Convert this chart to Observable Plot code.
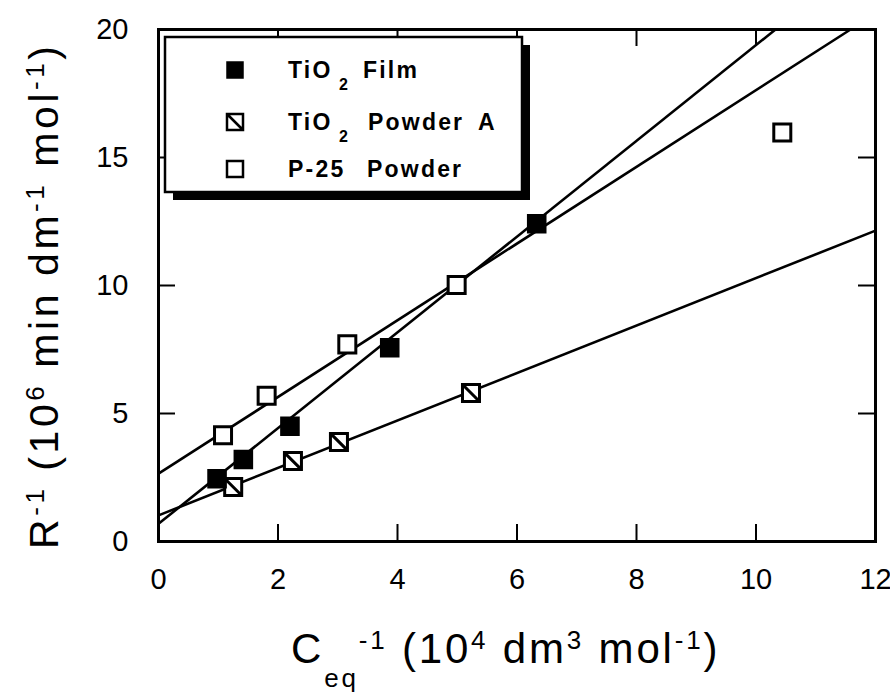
<!DOCTYPE html>
<html>
<head>
<meta charset="utf-8">
<script src="https://cdn.jsdelivr.net/npm/d3@7"></script>
<script src="https://cdn.jsdelivr.net/npm/@observablehq/plot@0.6"></script>
<style>
  body { margin: 0; background: #fff; }
  #chart { position: relative; width: 890px; height: 695px; }
</style>
</head>
<body>
<div id="chart"></div>
<script>
// Inverse rate vs inverse equilibrium concentration for three TiO2 samples
const filmX = [0.98, 1.42, 2.20, 3.87, 6.33];
const filmY = [2.45, 3.20, 4.50, 7.57, 12.41];
const powderAX = [1.25, 2.25, 3.02, 5.23];
const powderAY = [2.13, 3.14, 3.89, 5.80];
const p25X = [1.08, 1.81, 3.16, 4.99, 10.44];
const p25Y = [4.15, 5.69, 7.70, 10.02, 15.98];

// Linear fits (intercept, slope) for each sample
const fitNames = ["film", "powderA", "p25"];
const fitIntercepts = [0.69, 1.02, 2.65];
const fitSlopes = [1.87, 0.927, 1.498];

const xTicks = [0, 2, 4, 6, 8, 10, 12];
const yTicks = [0, 5, 10, 15, 20];
const xDomain = [0, 12];
const yDomain = [0, 20];

const W = 890, H = 695;
const M = {top: 29, right: 15, bottom: 154, left: 158};
const plotW = W - M.left - M.right, plotH = H - M.top - M.bottom;

// inward tick length (px) expressed in data units
const tickPx = 17;
const tx = tickPx * (xDomain[1] - xDomain[0]) / plotW;
const ty = tickPx * (yDomain[1] - yDomain[0]) / plotH;
const innerX = xTicks.slice(1, -1);
const innerY = yTicks.slice(1, -1);

// square with a diagonal, for powder A
const squareSlash = {
  draw(ctx, size) {
    const s = Math.sqrt(size) / 2;
    ctx.moveTo(-s, -s); ctx.lineTo(s, -s); ctx.lineTo(s, s); ctx.lineTo(-s, s); ctx.closePath();
    ctx.moveTo(-s, -s); ctx.lineTo(s, s);
  }
};

const pts = (xs, ys) => xs.map((x, i) => ({x, y: ys[i]}));
const film = pts(filmX, filmY);
const powderA = pts(powderAX, powderAY);
const p25 = pts(p25X, p25Y);

// fitted segments, ending where each line leaves the frame
const fits = fitNames.map((name, i) => {
  const a = fitIntercepts[i], b = fitSlopes[i];
  const xEnd = Math.min(xDomain[1], (yDomain[1] - a) / b);
  return {name, x1: xDomain[0], y1: a + b * xDomain[0], x2: xEnd, y2: a + b * xEnd};
});

const chart = Plot.plot({
  width: W, height: H,
  marginTop: M.top, marginRight: M.right, marginBottom: M.bottom, marginLeft: M.left,
  style: {fontFamily: "'Liberation Sans', Arial, sans-serif", fontSize: "29px", background: "#fff", color: "#000", overflow: "visible"},
  x: {domain: xDomain, ticks: xTicks, tickSize: 0, tickPadding: 27, label: null},
  y: {domain: yDomain, ticks: yTicks, tickSize: 0, tickPadding: 30, label: null},
  marks: [
    Plot.ruleX(innerX, {x: d => d, y1: yDomain[0], y2: yDomain[0] + ty, strokeWidth: 2}),
    Plot.ruleX(innerX, {x: d => d, y1: yDomain[1] - ty, y2: yDomain[1], strokeWidth: 2}),
    Plot.ruleY(innerY, {y: d => d, x1: xDomain[0], x2: xDomain[0] + tx, strokeWidth: 2}),
    Plot.ruleY(innerY, {y: d => d, x1: xDomain[1] - tx, x2: xDomain[1], strokeWidth: 2}),
    Plot.link(fits, {x1: "x1", y1: "y1", x2: "x2", y2: "y2", stroke: "#000", strokeWidth: 2.6}),
    Plot.dot(p25, {x: "x", y: "y", symbol: "square", r: 9.6, fill: "#fff", stroke: "#000", strokeWidth: 3}),
    Plot.dot(powderA, {x: "x", y: "y", symbol: squareSlash, r: 9.6, fill: "#fff", stroke: "#000", strokeWidth: 3}),
    Plot.dot(film, {x: "x", y: "y", symbol: "square", r: 10.2, fill: "#000", stroke: "#000", strokeWidth: 1.5}),
    Plot.frame({stroke: "#000", strokeWidth: 3})
  ]
});
document.getElementById("chart").appendChild(chart);

const svg = d3.select(chart);
const FONT = "'Liberation Sans', Arial, sans-serif";

// legend box with drop shadow
const lg = svg.append("g").attr("text-anchor", "start").attr("font-family", FONT)
  .attr("font-weight", "bold").attr("font-size", 23).attr("letter-spacing", 2.2);
const box = {x: 165, y: 37, w: 357, h: 155, shadow: 8};
lg.append("rect").attr("x", box.x + box.shadow).attr("y", box.y + box.shadow).attr("width", box.w).attr("height", box.h).attr("fill", "#000");
lg.append("rect").attr("x", box.x).attr("y", box.y).attr("width", box.w).attr("height", box.h)
  .attr("fill", "#fff").attr("stroke", "#000").attr("stroke-width", 2.5);

const legendRows = [
  {cy: 70, symbol: d3.symbolSquare, fill: "#000", sw: 1.5, parts: [["TiO", 288], ["2", 339, "sub"], ["Film", 363]]},
  {cy: 122, symbol: squareSlash, fill: "#fff", sw: 2.5, parts: [["TiO", 288], ["2", 339, "sub"], ["Powder", 368], ["A", 478]]},
  {cy: 169, symbol: d3.symbolSquare, fill: "#fff", sw: 2.5, parts: [["P-25", 288], ["Powder", 367]]}
];
legendRows.forEach(row => {
  lg.append("path").attr("transform", `translate(235,${row.cy})`)
    .attr("d", d3.symbol(row.symbol, 16 * 16)())
    .attr("fill", row.fill).attr("stroke", "#000").attr("stroke-width", row.sw);
  const t = lg.append("text").attr("fill", "#000");
  row.parts.forEach(([s, x, kind]) => {
    const sp = t.append("tspan").attr("x", x).text(s);
    if (kind === "sub") sp.attr("y", row.cy + 20).attr("font-size", 16);
    else sp.attr("y", row.cy + 8);
  });
});

// axis titles: flowing text with raised/lowered runs, stretched to a set length
function title(g, parts, o) {
  const t = g.append("text").attr("text-anchor", "start").attr("font-family", FONT)
    .attr("font-size", o.size).attr("letter-spacing", o.spacing).attr("fill", "#000")
    .attr("x", 0).attr("y", 0)
    .attr("textLength", o.length).attr("lengthAdjust", "spacing");
  let level = 0;
  parts.forEach(([s, kind]) => {
    const target = kind === "sup" ? -o.sup : kind === "sub" ? o.sub : 0;
    const sp = t.append("tspan").text(s).attr("dy", target - level);
    if (kind) sp.attr("font-size", o.small);
    level = target;
  });
}

const gx = svg.append("g").attr("transform", "translate(291,663)");
title(gx, [
  ["C"], ["eq", "sub"], ["-1", "sup"], [" (10"], ["4", "sup"],
  [" dm"], ["3", "sup"], [" mol"], ["-1", "sup"], [")"]
], {size: 42, small: 26, sup: 14, sub: 24, spacing: 1.5, length: 428});

const gy = svg.append("g").attr("transform", "translate(58,549) rotate(-90)");
title(gy, [
  ["R"], ["-1", "sup"], [" (10"], ["6", "sup"], [" min"],
  [" dm"], ["-1", "sup"], [" mol"], ["-1", "sup"], [")"]
], {size: 41, small: 26, sup: 14, sub: 20, spacing: 2, length: 505});
</script>
</body>
</html>
